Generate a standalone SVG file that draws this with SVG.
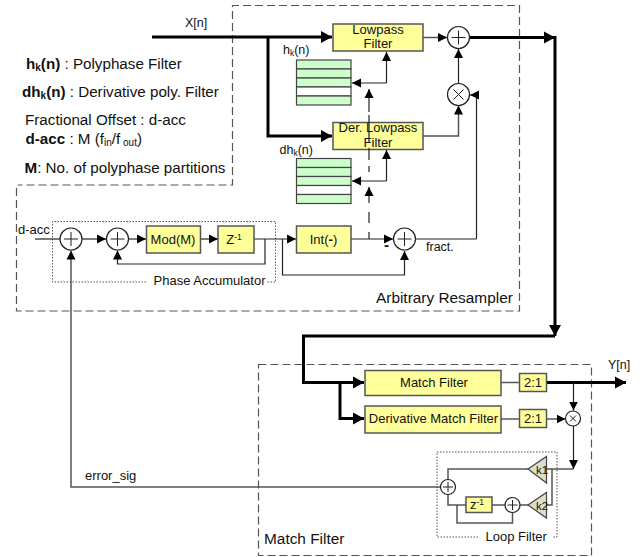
<svg xmlns="http://www.w3.org/2000/svg" width="644" height="557" viewBox="0 0 644 557">
<style>
text{font-family:"Liberation Sans",Arial,sans-serif;fill:#111;font-size:15.200px}
.s11{font-size:11.500px}.s12{font-size:12.500px}.s13{font-size:13px}
.big{font-size:15.400px}
.b{font-weight:bold}
.box{fill:#ffff99;stroke:#555;stroke-width:1.5}
.tb{fill:#ccffcc;stroke:#444;stroke-width:1.2}
.tw{fill:#fff;stroke:#444;stroke-width:1.2}
.c{fill:#fff;stroke:#222;stroke-width:1.2}
.tri{fill:#dde0c8;stroke:#444;stroke-width:1.2}
.w{fill:none;stroke:#222;stroke-width:1.2}
.g{fill:none;stroke:#555;stroke-width:1.5}
.t{fill:none;stroke:#000;stroke-width:3}
.dash{fill:none;stroke:#555;stroke-width:1.2;stroke-dasharray:8 4}
.dot{fill:none;stroke:#555;stroke-width:1;stroke-dasharray:1.5 1.5}
.gl{fill:none;stroke:#222;stroke-width:1}
.ah{fill:#000}
</style>
<defs>
<marker id="a" markerUnits="userSpaceOnUse" markerWidth="10" markerHeight="10" refX="9" refY="5" orient="auto"><path class="ah" d="M0 0.500L9 5L0 9.500z"/></marker>
<marker id="A" markerUnits="userSpaceOnUse" markerWidth="12" markerHeight="14" refX="11" refY="7" orient="auto"><path class="ah" d="M0 1L11 7L0 13z"/></marker>
<g id="plus"><circle class="c" r="11"/><path class="gl" d="M-7 0H7M0-7V7"/></g>
<g id="times"><circle class="c" r="11"/><path class="gl" d="M-5-5L5 5M-5 5L5-5"/></g>
<g id="plusS"><circle class="c" r="7.500"/><path class="gl" d="M-5 0H5M0-5V5"/></g>
<g id="timesS"><circle class="c" r="7.500"/><path class="gl" d="M-3-3L3 3M-3 3L3-3"/></g>
<g id="table">
<rect class="tb" x="0" y="0" width="54.500" height="9"/><rect class="tb" x="0" y="9" width="54.500" height="9"/><rect class="tb" x="0" y="18" width="54.500" height="9"/><rect class="tw" x="0" y="27" width="54.500" height="9"/><rect class="tb" x="0" y="36" width="54.500" height="9"/>
</g>
</defs>
<rect width="644" height="557" fill="#fff"/>

<g id="regions">
<path class="dash" d="M16.500 188V311H519.500V5.500H232.500V185H18"/>
<rect class="dash" x="258.500" y="364.500" width="333" height="191"/>
<path class="dot" d="M146 282H52.500V221.500H275.500V282H266"/>
<path class="dot" d="M478 537H437V452H557V537H552"/>
<text x="376" y="303" class="big">Arbitrary Resampler</text>
<text x="264" y="544" class="big">Match Filter</text>
<text x="153.500" y="284.500" class="s13">Phase Accumulator</text>
<text x="485.500" y="541" class="s13">Loop Filter</text>
</g>

<g id="legend">
<text x="26" y="69"><tspan class="b">h</tspan><tspan class="b" font-size="10" dy="2">k</tspan><tspan class="b" dy="-2">(n)</tspan> : Polyphase Filter</text>
<text x="22" y="97"><tspan class="b">dh</tspan><tspan class="b" font-size="10" dy="2">k</tspan><tspan class="b" dy="-2">(n)</tspan> : Derivative poly. Filter</text>
<text x="25" y="125">Fractional Offset : d-acc</text>
<text x="25.500" y="144"><tspan class="b">d-acc</tspan> : M (f<tspan font-size="10" dy="2">in</tspan><tspan dy="-2">/f</tspan><tspan font-size="10" dy="2"> out</tspan><tspan dy="-2">)</tspan></text>
<text x="24.500" y="173"><tspan class="b">M</tspan>: No. of polyphase partitions</text>
</g>

<g id="connectors">
<path class="t" d="M152 37H332" marker-end="url(#A)"/>
<path class="t" d="M268 37V136H332" marker-end="url(#A)"/>
<path class="t" d="M470 37.500H555" marker-end="url(#A)"/>
<path class="t" d="M555 36V336" marker-end="url(#A)"/>
<path class="t" d="M555 336H303.500V382.500H364" marker-end="url(#A)"/>
<path class="t" d="M340 382.500V418.500H364" marker-end="url(#A)"/>
<path class="t" d="M547 382.500H626" marker-end="url(#A)"/>
<path class="g" d="M423 37.500H447" marker-end="url(#a)"/>
<path class="w" d="M458.500 83V49" marker-end="url(#a)"/>
<path class="g" d="M423 136H458.500V105.500" marker-end="url(#a)"/>
<path class="w" d="M386.500 83V52" marker-end="url(#a)"/>
<path class="w" d="M386.500 83H352" marker-end="url(#a)"/>
<path class="w" d="M386.500 181V150" marker-end="url(#a)"/>
<path class="w" d="M386.500 181H352" marker-end="url(#a)"/>
<path class="w" d="M476.500 239V95H470" marker-end="url(#a)"/>
<path class="w" d="M416 239H476.500"/>
<path class="w" d="M369 112V89" marker-end="url(#a)"/>
<path class="w" d="M369 203V187" marker-end="url(#a)"/>
<path class="w" d="M369 212V223M369 232V239"/>
<path class="w" d="M35 239H60"/>
<path class="w" d="M82 239H106" marker-end="url(#a)"/>
<path class="w" d="M129 239H146" marker-end="url(#a)"/>
<path class="w" d="M200 239H218" marker-end="url(#a)"/>
<path class="w" d="M254 239H296" marker-end="url(#a)"/>
<path class="w" d="M351 239H393" marker-end="url(#a)"/>
<path class="w" d="M265 239V264H117.500V250.500" marker-end="url(#a)"/>
<path class="w" d="M282.500 239V275H404.500V251" marker-end="url(#a)"/>
<path class="g" d="M440 487H71V250.500" marker-end="url(#a)"/>
<path class="g" d="M501 382.500H519"/>
<path class="g" d="M501 419H519"/>
<path class="g" d="M547 419H565.500" marker-end="url(#a)"/>
<path class="w" d="M573.500 382.500V410.500" marker-end="url(#a)"/>
<path class="w" d="M573.500 426V469" marker-end="url(#a)"/>
<path class="g" d="M573.500 469H546"/>
<path class="g" d="M552 469V505H546"/>
<path class="g" d="M528 469H448V479.500"/>
<path class="g" d="M448 494.500V505H466"/>
<path class="g" d="M457 505V523H512.500V512.500"/>
<path class="g" d="M492 505H505"/>
<path class="g" d="M520 505H528"/>
</g>

<g id="lowpass"><rect class="box" x="333" y="24" width="90" height="27"/><text x="378" y="33.500" text-anchor="middle" class="s13">Lowpass</text><text x="378" y="48" text-anchor="middle" class="s13">Filter</text></g>
<g id="der-lowpass"><rect class="box" x="333" y="122.500" width="90" height="27"/><text x="378" y="132" text-anchor="middle" class="s13">Der. Lowpass</text><text x="378" y="147" text-anchor="middle" class="s13">Filter</text></g>
<path class="w" d="M369 115V143M369 148V160M369 166V172"/>
<g id="hk-table"><use href="#table" x="296.500" y="60"/><text x="283" y="54" class="s12">h<tspan font-size="8.500" dy="2">k</tspan><tspan dy="-2">(n)</tspan></text></g>
<g id="dhk-table"><use href="#table" x="296.500" y="158.500"/><text x="279.500" y="154" class="s12">dh<tspan font-size="8.500" dy="2">k</tspan><tspan dy="-2">(n)</tspan></text></g>
<g id="sum-out"><use href="#plus" x="458.500" y="37.500"/></g>
<g id="mult"><use href="#times" x="458.500" y="94.500"/></g>
<g id="sum1"><use href="#plus" x="71" y="239"/></g>
<g id="sum2"><use href="#plus" x="117.500" y="239"/></g>
<g id="mod"><rect class="box" x="146.500" y="226" width="54" height="27"/><text x="173" y="243.500" text-anchor="middle" class="s13">Mod(M)</text></g>
<g id="z1"><rect class="box" x="218" y="226" width="36" height="27"/><text x="234" y="243.500" text-anchor="middle" class="s13">Z<tspan font-size="8.500" dy="-4">-1</tspan></text></g>
<g id="int"><rect class="box" x="296.500" y="226" width="54.500" height="27"/><text x="323.500" y="243.500" text-anchor="middle" class="s13">Int(<tspan class="b">-</tspan>)</text></g>
<g id="sum3"><use href="#plus" x="404.500" y="239"/></g>
<g id="match"><rect class="box" x="365" y="370.500" width="136" height="25"/><text x="434" y="387" text-anchor="middle" class="s13">Match Filter</text></g>
<g id="dmatch"><rect class="box" x="365" y="406" width="136" height="27"/><text x="433.500" y="423" text-anchor="middle" class="s13">Derivative Match Filter</text></g>
<g id="dec1"><rect class="box" x="519.500" y="373.500" width="27" height="18"/><text x="533" y="387" text-anchor="middle" class="s13">2:1</text></g>
<g id="dec2"><rect class="box" x="519.500" y="409.500" width="27" height="18"/><text x="533" y="423" text-anchor="middle" class="s13">2:1</text></g>
<g id="mult2"><use href="#timesS" x="573" y="418.500"/></g>
<g id="sum4"><use href="#plusS" x="448" y="487"/></g>
<g id="k1"><path class="tri" d="M528 469L546.500 456.500V483z"/><text x="536" y="473.500" class="s11">k1</text></g>
<g id="k2"><path class="tri" d="M528 505L546.500 492.500V518z"/><text x="536" y="509.500" class="s11">k2</text></g>
<g id="z2"><rect class="box" x="466" y="497" width="26" height="15.500"/><text x="477" y="509" text-anchor="middle" class="s13">z<tspan font-size="8.500" dy="-4">-1</tspan></text></g>
<g id="sum5"><use href="#plusS" x="512.500" y="505"/></g>

<g id="labels">
<text x="185" y="26.500" class="s12">X[n]</text>
<text x="18" y="234" class="s13">d-acc</text>
<text x="426" y="251" class="s12">fract.</text>
<text x="384" y="250" class="b" font-size="14">-</text>
<text x="85" y="480" class="s13">error_sig</text>
<text x="608" y="369" class="s12">Y[n]</text>
</g>
</svg>
